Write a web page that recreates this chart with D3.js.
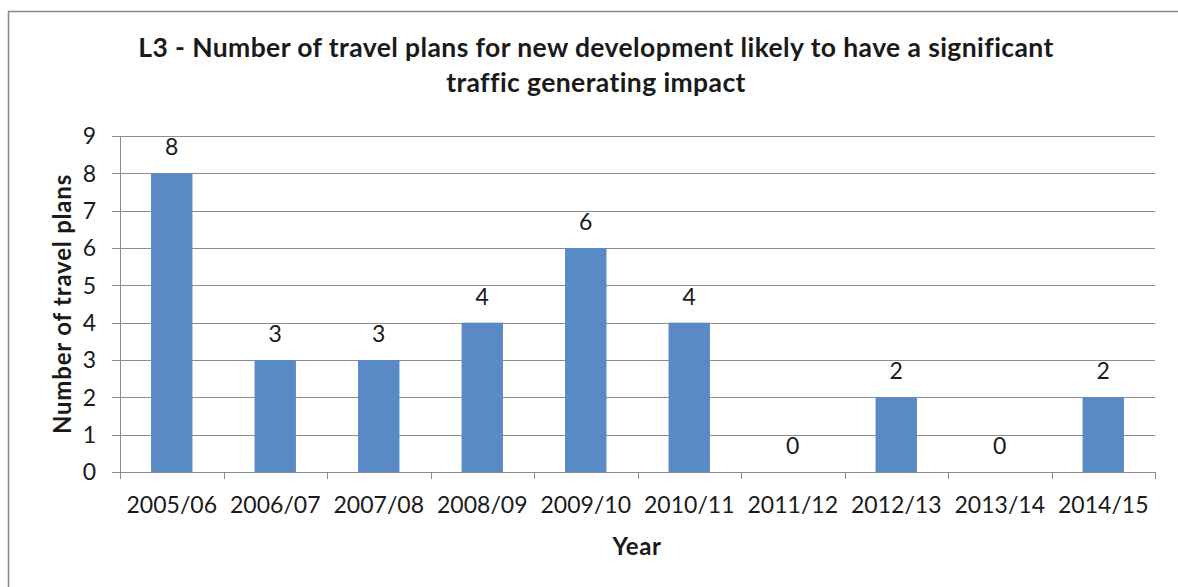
<!DOCTYPE html>
<html>
<head>
<meta charset="utf-8">
<script src="https://cdn.jsdelivr.net/npm/d3@7"></script>
<style>
  html, body { margin: 0; padding: 0; background: #fff; }
  svg { display: block; }
  text { font-family: Lato, "Open Sans", sans-serif; fill: #1a1a1a; }
</style>
</head>
<body>
<svg id="chart" width="1178" height="587"></svg>
<script>
// Travel plans per financial year
const years = ["2005/06", "2006/07", "2007/08", "2008/09", "2009/10",
               "2010/11", "2011/12", "2012/13", "2013/14", "2014/15"];
const plans = [8, 3, 3, 4, 6, 4, 0, 2, 0, 2];
const yTicks = [0, 1, 2, 3, 4, 5, 6, 7, 8, 9];
const titleLines = [
  "L3 - Number of travel plans for new development likely to have a significant",
  "traffic generating impact"
];
const xTitle = "Year";
const yTitle = "Number of travel plans";

const svg = d3.select("#chart");
const W = 1178, H = 587;
const plot = { left: 120, right: 1155, top: 136, bottom: 472 };
const gridColor = "#8c8c8c";
const barColor = "#5a8ac6";

// outer chart frame
svg.append("rect")
  .attr("x", 8.5).attr("y", 11.5)
  .attr("width", W + 20).attr("height", H + 20)
  .attr("fill", "#fff")
  .attr("stroke", "#888").attr("stroke-width", 1.5);

const x = d3.scaleBand()
  .domain(years)
  .range([plot.left, plot.right])
  .paddingInner(0.6)
  .paddingOuter(0.3);

const y = d3.scaleLinear()
  .domain([0, 9])
  .range([plot.bottom, plot.top]);

// horizontal gridlines
svg.append("g")
  .selectAll("line")
  .data(yTicks)
  .join("line")
  .attr("x1", plot.left - 8).attr("x2", plot.right)
  .attr("y1", d => Math.round(y(d)) + 0.5)
  .attr("y2", d => Math.round(y(d)) + 0.5)
  .attr("stroke", gridColor).attr("stroke-width", 1);

// y axis line
svg.append("line")
  .attr("x1", plot.left + 0.5).attr("x2", plot.left + 0.5)
  .attr("y1", plot.top).attr("y2", plot.bottom + 7)
  .attr("stroke", gridColor);

// category boundary ticks
const boundaries = d3.range(years.length + 1).map(i => plot.left + i * (plot.right - plot.left) / years.length);
svg.append("g")
  .selectAll("line")
  .data(boundaries)
  .join("line")
  .attr("x1", d => Math.round(d) + 0.5).attr("x2", d => Math.round(d) + 0.5)
  .attr("y1", plot.bottom).attr("y2", plot.bottom + 7)
  .attr("stroke", gridColor);

// y tick labels
svg.append("g")
  .selectAll("text")
  .data(yTicks)
  .join("text")
  .attr("x", 96)
  .attr("y", d => y(d))
  .attr("dy", "0.36em")
  .attr("text-anchor", "end")
  .style("font-size", "23px")
  .text(d => d);

// x category labels
const bandCenter = d => x(d) + x.bandwidth() / 2;
svg.append("g")
  .selectAll("text")
  .data(years)
  .join("text")
  .attr("x", d => bandCenter(d))
  .attr("y", 513)
  .attr("text-anchor", "middle")
  .style("font-size", "23px")
  .text(d => d);

// bars
svg.append("g")
  .selectAll("rect")
  .data(years.map((yr, i) => ({ yr, v: plans[i] })))
  .join("rect")
  .attr("x", d => x(d.yr))
  .attr("y", d => y(d.v))
  .attr("width", x.bandwidth())
  .attr("height", d => y(0) - y(d.v))
  .attr("fill", barColor);

// value labels
svg.append("g")
  .selectAll("text")
  .data(years.map((yr, i) => ({ yr, v: plans[i] })))
  .join("text")
  .attr("x", d => bandCenter(d.yr))
  .attr("y", d => y(d.v) - 18)
  .attr("text-anchor", "middle")
  .style("font-size", "23px")
  .text(d => d.v);

// chart title
svg.append("g")
  .selectAll("text")
  .data(titleLines)
  .join("text")
  .attr("x", 596)
  .attr("y", (d, i) => 57 + i * 35)
  .attr("text-anchor", "middle")
  .style("font-size", "26.5px")
  .style("letter-spacing", "0.4px")
  .style("font-weight", "bold")
  .text(d => d);

// axis titles
svg.append("text")
  .attr("x", 637).attr("y", 555)
  .attr("text-anchor", "middle")
  .style("font-size", "24px")
  .style("letter-spacing", "0.6px")
  .style("font-weight", "bold")
  .text(xTitle);

svg.append("text")
  .attr("transform", `translate(71, ${(plot.top + plot.bottom) / 2}) rotate(-90)`)
  .attr("text-anchor", "middle")
  .style("font-size", "24px")
  .style("letter-spacing", "0.8px")
  .style("font-weight", "bold")
  .text(yTitle);
</script>
</body>
</html>
